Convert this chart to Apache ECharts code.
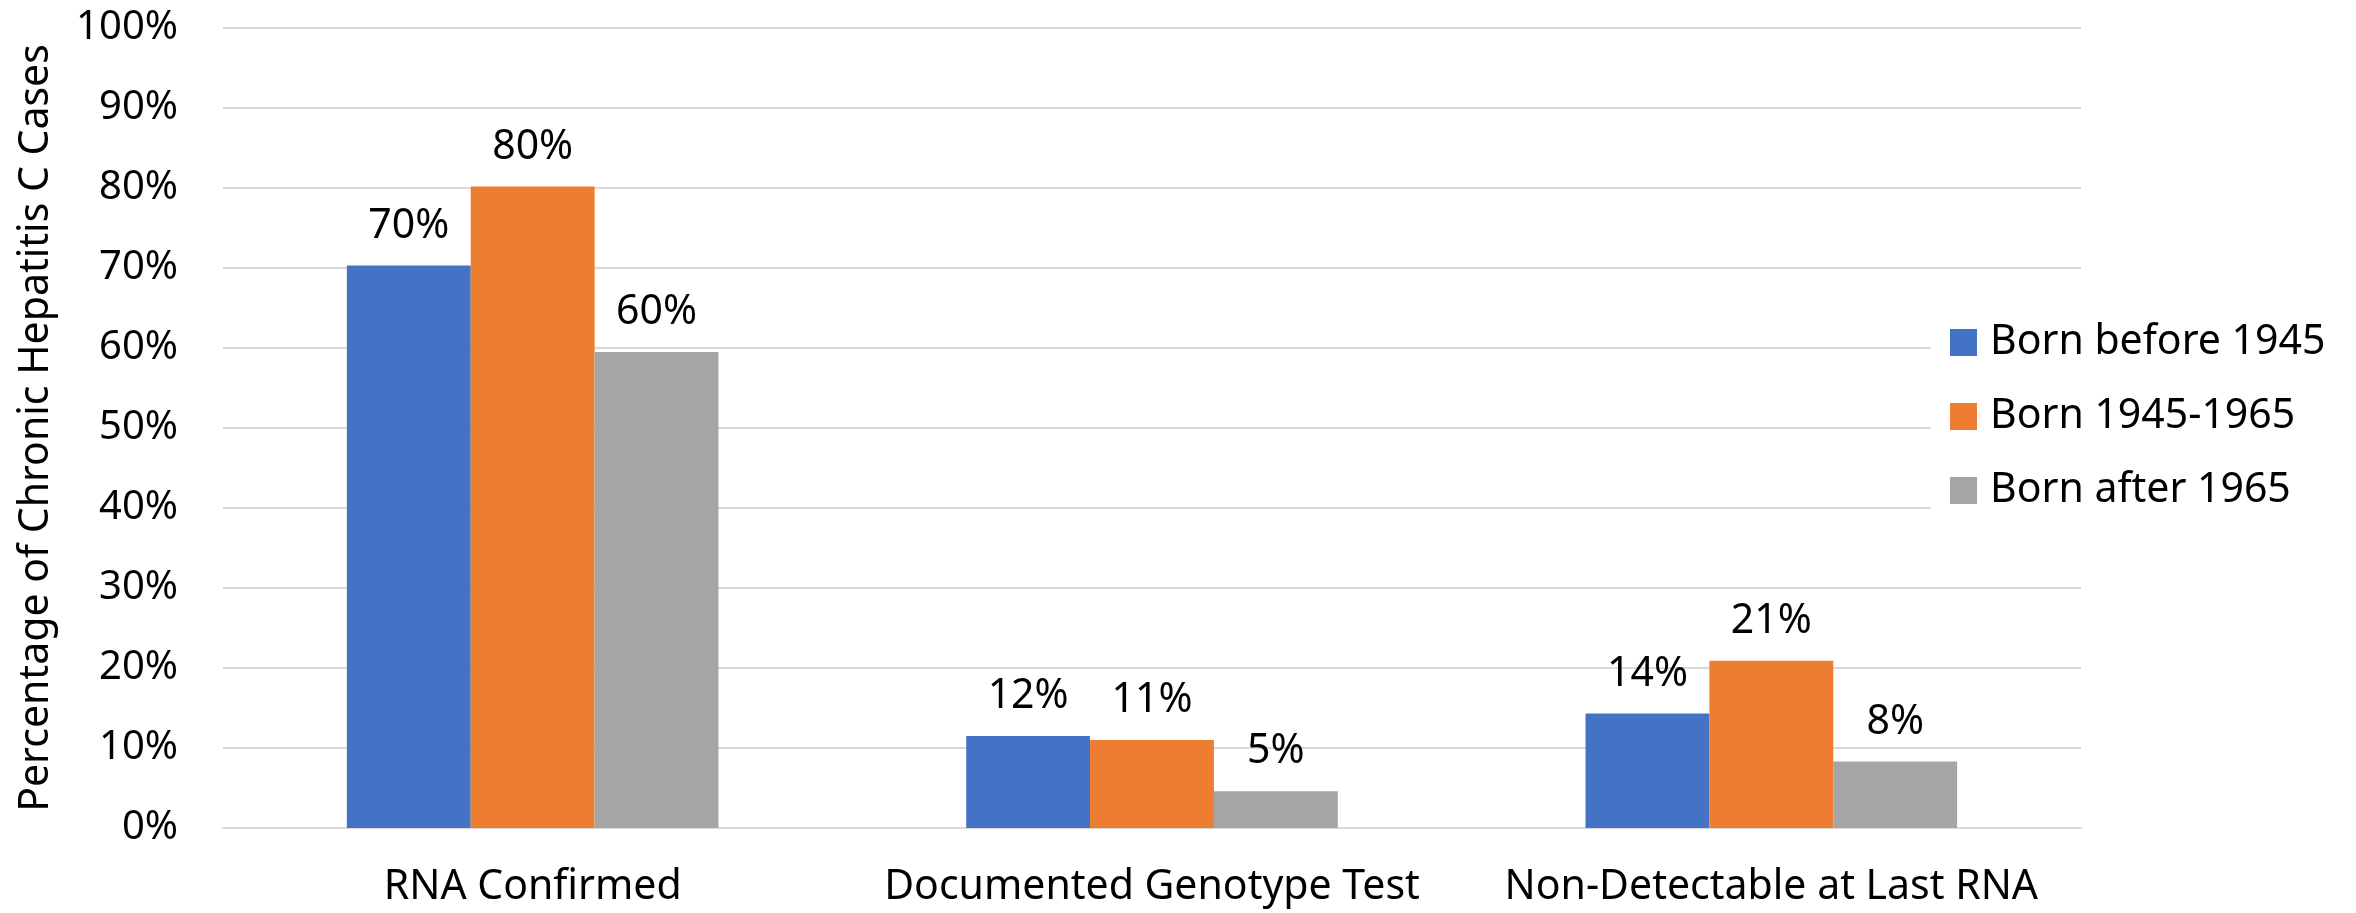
<!DOCTYPE html>
<html>
<head>
<meta charset="utf-8">
<script src="https://cdn.jsdelivr.net/npm/echarts@6/dist/echarts.min.js"></script>
<style>
  html, body { margin: 0; padding: 0; background: #ffffff; }
  #chart { width: 2356px; height: 913px; }
</style>
</head>
<body>
<div id="chart"></div>
<script>
// Categories along the x axis
const categories = ['RNA Confirmed', 'Documented Genotype Test', 'Non-Detectable at Last RNA'];

// Birth-cohort series names
const seriesNames = ['Born before 1945', 'Born 1945-1965', 'Born after 1965'];

// Percentage of chronic hepatitis C cases, per cohort
const bornBefore1945 = [70.3, 11.5, 14.3];
const born1945to1965 = [80.2, 11.0, 20.9];
const bornAfter1965 = [59.5, 4.6, 8.3];

// Y axis range and step (percent)
const yMin = 0;
const yMax = 100;
const yStep = 10;

const seriesValues = [bornBefore1945, born1945to1965, bornAfter1965];
const colors = ['#4472C4', '#ED7D31', '#A5A5A5'];
const FONT = 'Noto Sans';

const chart = echarts.init(document.getElementById('chart'), null, { renderer: 'canvas' });

chart.setOption({
  backgroundColor: '#ffffff',
  animation: false,
  textStyle: { fontFamily: FONT },
  grid: {
    left: 223,
    top: 28,
    width: 1858,
    height: 800,
    containLabel: false,
    outerBoundsMode: 'none'
  },
  legend: {
    orient: 'vertical',
    left: 1931,
    top: 302,
    padding: [20, 20, 20, 19],
    backgroundColor: '#ffffff',
    icon: 'rect',
    itemWidth: 27,
    itemHeight: 27,
    itemGap: 33,
    textStyle: {
      fontFamily: FONT,
      fontSize: 41,
      color: '#000000',
      padding: [0, 0, 0, 8]
    },
    data: seriesNames
  },
  xAxis: {
    type: 'category',
    data: categories,
    axisLine: { show: true, lineStyle: { color: '#d9d9d9', width: 2 } },
    axisTick: { show: false },
    axisLabel: {
      fontFamily: FONT,
      fontSize: 41,
      color: '#000000',
      margin: 39,
      interval: 0
    }
  },
  yAxis: {
    type: 'value',
    min: yMin,
    max: yMax,
    interval: yStep,
    name: 'Percentage of Chronic Hepatitis C Cases',
    nameLocation: 'middle',
    nameGap: 166,
    nameRotate: 90,
    nameTextStyle: { fontFamily: FONT, fontSize: 41, color: '#000000' },
    axisLine: { show: false },
    axisTick: { show: false },
    splitLine: { show: true, lineStyle: { color: '#d9d9d9', width: 2 } },
    axisLabel: {
      fontFamily: FONT,
      fontSize: 40,
      color: '#000000',
      margin: 45,
      formatter: '{value}%'
    }
  },
  series: seriesNames.map((name, i) => ({
    name: name,
    type: 'bar',
    data: seriesValues[i],
    barGap: '0%',
    barCategoryGap: '40%',
    itemStyle: { color: colors[i] },
    label: {
      show: true,
      position: 'top',
      distance: 19,
      fontFamily: FONT,
      fontSize: 41,
      color: '#000000',
      formatter: (p) => Math.round(p.value) + '%'
    }
  }))
});
</script>
</body>
</html>
